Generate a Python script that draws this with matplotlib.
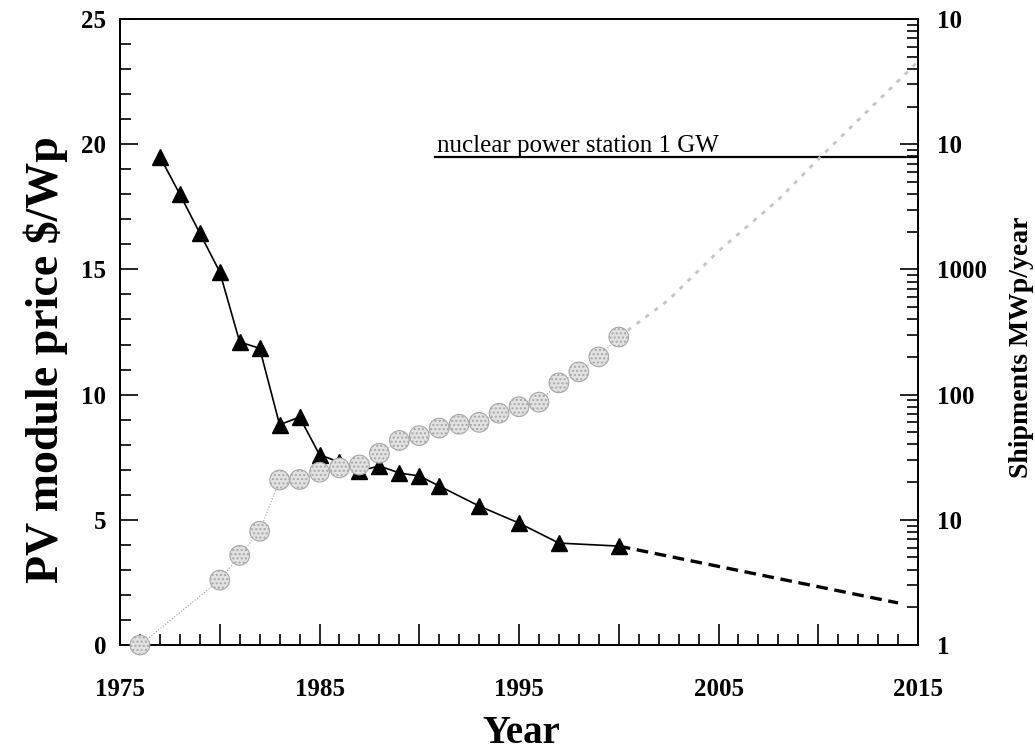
import numpy as np
import matplotlib
matplotlib.use("Agg")
import matplotlib.pyplot as plt
from matplotlib.ticker import MultipleLocator, FixedLocator, FixedFormatter, LogLocator, NullFormatter

plt.rcParams['font.family'] = ['Liberation Serif', 'DejaVu Serif']
plt.rcParams['hatch.linewidth'] = 1.0

## Data
price_years = [1977, 1978, 1979, 1980, 1981, 1982, 1983, 1984, 1985, 1986,
               1987, 1988, 1989, 1990, 1991, 1993, 1995, 1997, 2000]
price = [19.5, 18.0, 16.45, 14.9, 12.1, 11.85, 8.8, 9.1, 7.6, 7.3,
         6.95, 7.15, 6.87, 6.75, 6.35, 5.55, 4.87, 4.07, 3.95]
price_proj_years = [2000, 2014]
price_proj = [3.95, 1.68]

ship_years = [1976, 1980, 1981, 1982, 1983, 1984, 1985, 1986, 1987, 1988,
              1989, 1990, 1991, 1992, 1993, 1994, 1995, 1996, 1997, 1998,
              1999, 2000]
shipments = [1.0, 3.3, 5.2, 8.1, 20.8, 21, 24, 26, 27.4, 34,
             43, 47, 54, 58, 60, 71, 80, 87, 124, 152,
             200, 288]
ship_proj_years = [2000, 2002.5, 2005, 2008, 2010, 2015]
ship_proj = [288, 570, 1400, 3600, 7600, 45700]

nuclear_level = 19.5
nuclear_start = 1990.8
nuclear_label = "nuclear power station 1 GW"

x_ticks = [1975, 1980, 1985, 1990, 1995, 2000, 2005, 2010, 2015]
x_labels = ["1975", "", "1985", "", "1995", "", "2005", "", "2015"]
right_ticks = [1, 10, 100, 1000, 1e4, 1e5]
right_labels = ["1", "10", "100", "1000", "10", "10"]

fig = plt.figure(figsize=(10.35, 7.5), dpi=100)
ax = fig.add_axes([120/1035, 1 - 645/750, (918-120)/1035, (645-19)/750])
ax2 = ax.twinx()

# price curve
ax.plot(price_years, price, color='black', lw=1.2, marker='^', markersize=11,
        markerfacecolor='black', markeredgecolor='black')
ax.plot(price_proj_years, price_proj, color='black', lw=2.4, dashes=(3.5, 2))

# nuclear reference line
ax.plot([nuclear_start, 2015], [nuclear_level, nuclear_level], color='black', lw=1.6)
ax.text(nuclear_start + 0.1, nuclear_level + 0.2, nuclear_label, fontsize=18,
        va='baseline', ha='left')

# shipments
ax2.plot(ship_proj_years, ship_proj, color='#c4c4c4', lw=2.0, dashes=(1.5, 2.5))
ax2.plot(ship_years, shipments, color='#a0a0a0', lw=0.8, ls=':')
ax2.scatter(ship_years, shipments, s=200, marker='o', facecolor='#e2e2e2',
            edgecolor='#a8a8a8', linewidth=0.8, hatch='....', zorder=3,
            clip_on=False)

ax.set_xlim(1975, 2015)
ax.set_ylim(0, 25)
ax2.set_yscale('log')
ax2.set_ylim(1, 1e5)

ax.xaxis.set_major_locator(FixedLocator(x_ticks))
ax.xaxis.set_major_formatter(FixedFormatter(x_labels))
ax.xaxis.set_minor_locator(MultipleLocator(1))
ax.yaxis.set_major_locator(MultipleLocator(5))
ax.yaxis.set_minor_locator(MultipleLocator(1))

ax2.yaxis.set_major_locator(FixedLocator(right_ticks))
ax2.yaxis.set_major_formatter(FixedFormatter(right_labels))
ax2.yaxis.set_minor_locator(LogLocator(base=10, subs=np.arange(2, 10)))
ax2.yaxis.set_minor_formatter(NullFormatter())

ax.tick_params(axis='x', which='major', direction='in', length=15, width=1.2,
               labelsize=18, pad=24, top=False)
ax.tick_params(axis='x', which='minor', direction='in', length=8, width=1.2, top=False)
ax.tick_params(axis='y', which='major', direction='in', length=13, width=1.2,
               labelsize=18, pad=10, right=False)
ax.tick_params(axis='y', which='minor', direction='in', length=8, width=1.2, right=False)
ax2.tick_params(axis='y', which='major', direction='in', length=13, width=1.2,
                labelsize=18, pad=14)
ax2.tick_params(axis='y', which='minor', direction='in', length=8, width=1.2)

for lab in ax.get_xticklabels() + ax.get_yticklabels() + ax2.get_yticklabels():
    lab.set_fontweight('bold')

for a in (ax, ax2):
    for sp in a.spines.values():
        sp.set_linewidth(1.3)

fig.text(0.0445, 0.52, "PV module price $/Wp", rotation=90, fontsize=33,
         fontweight='bold', ha='center', va='center')
fig.text(521/1035, 0.022, "Year", fontsize=28, fontweight='bold',
         ha='center', va='center')
fig.text(1021/1035, 1 - 347/750, "Shipments MWp/year", rotation=90, fontsize=20,
         fontweight='bold', ha='center', va='center')

fig.savefig("out.png", dpi=100)
